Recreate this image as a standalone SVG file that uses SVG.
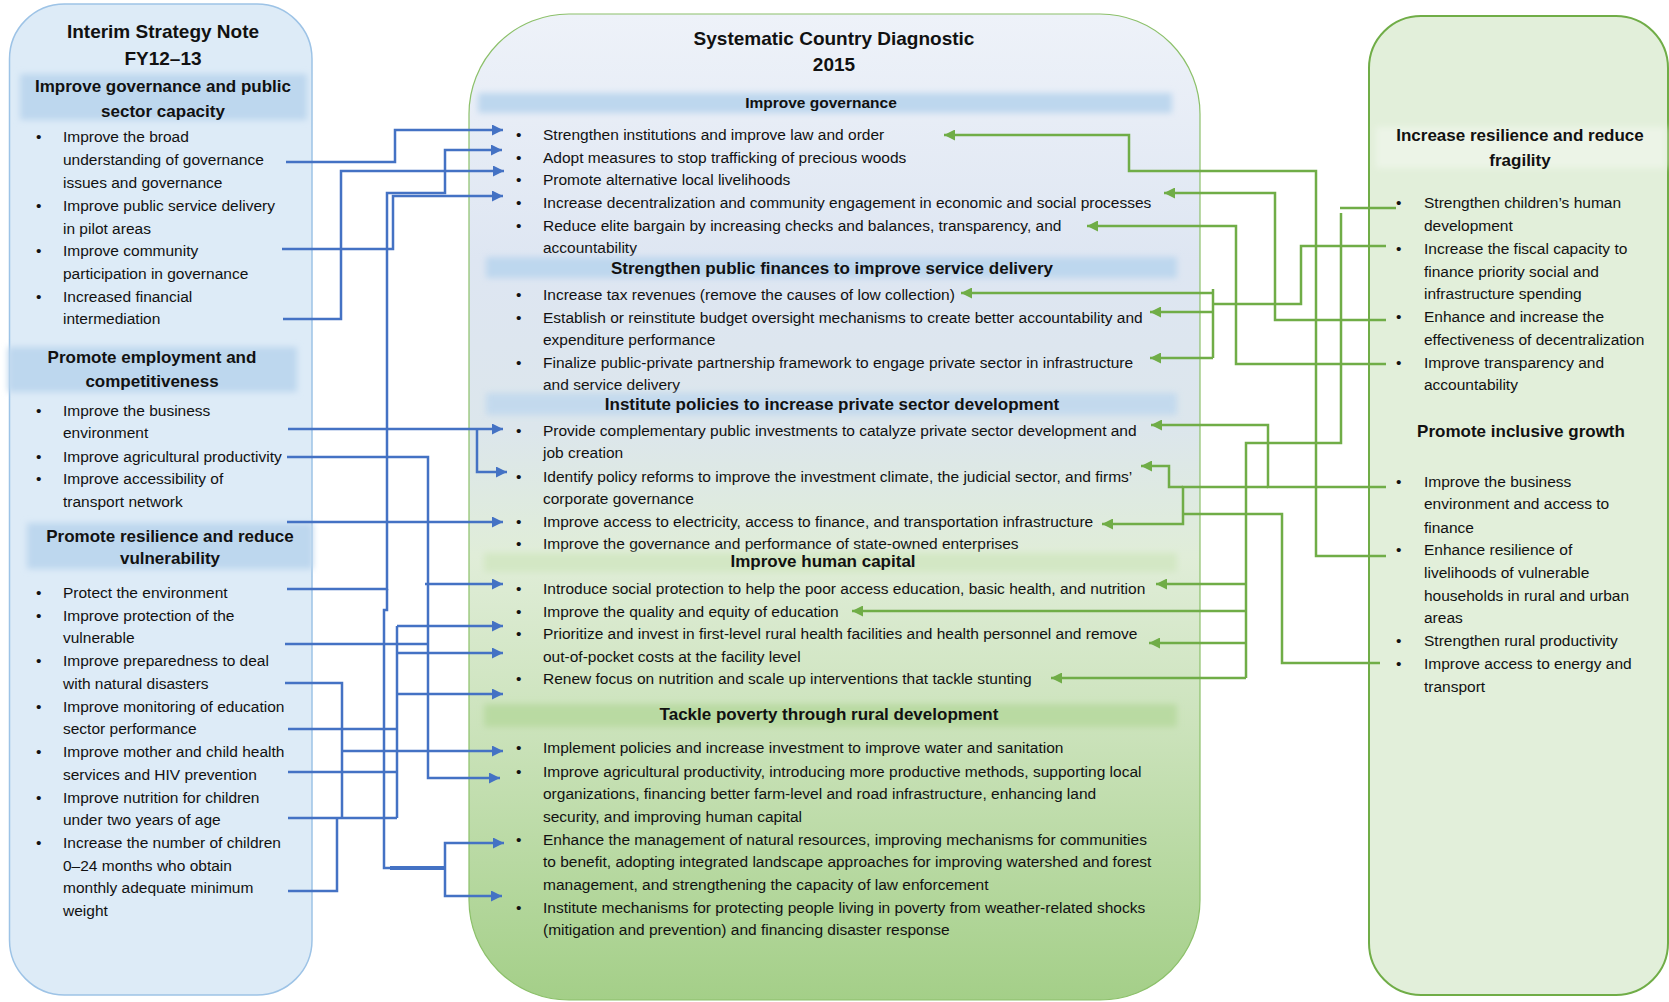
<svg xmlns="http://www.w3.org/2000/svg" width="1669" height="1002" viewBox="0 0 1669 1002">
<defs>
<style>
text{font-family:"Liberation Sans",Arial,sans-serif;fill:#111}
.t{font-size:15.5px}
.h{font-size:17px;font-weight:bold;text-anchor:middle}
.hm{font-size:15.5px;font-weight:bold;text-anchor:middle}
.ttl{font-size:19px;font-weight:bold;text-anchor:middle}
.blue{fill:none;stroke:#4472C4;stroke-width:2.5}
.green{fill:none;stroke:#70AD47;stroke-width:2.5}
.bandB{fill:#BDD7EE}
.bandG{fill:#B9DAA2}
</style>
<filter id="soft" x="-5%" y="-50%" width="110%" height="200%"><feGaussianBlur stdDeviation="3"/></filter>
<linearGradient id="midg" x1="0" y1="14" x2="0" y2="1000" gradientUnits="userSpaceOnUse">
<stop offset="0" stop-color="#EEF2F9"/>
<stop offset="0.25" stop-color="#DEE6F2"/>
<stop offset="0.42" stop-color="#DCE6EC"/>
<stop offset="0.55" stop-color="#E0EDD8"/>
<stop offset="0.72" stop-color="#CCE3BC"/>
<stop offset="1" stop-color="#A4CF88"/>
</linearGradient>
<marker id="ab" markerUnits="userSpaceOnUse" markerWidth="11" markerHeight="11" refX="11" refY="5.5" orient="auto"><path d="M0,0 L11,5.5 L0,11 z" fill="#4472C4"/></marker>
<marker id="ag" markerUnits="userSpaceOnUse" markerWidth="11" markerHeight="11" refX="11" refY="5.5" orient="auto"><path d="M0,0 L11,5.5 L0,11 z" fill="#70AD47"/></marker>
</defs>
<rect width="1669" height="1002" fill="#fff"/>

<g id="node-isn">
<rect x="9.5" y="4" width="302.5" height="991" rx="55" fill="#DDEBF7" stroke="#9DC3E6" stroke-width="1.5"/>
<text class="ttl" x="163" y="38">Interim Strategy Note</text>
<text class="ttl" x="163" y="65">FY12–13</text>
<rect class="bandB" x="20" y="74" width="287" height="46" filter="url(#soft)"/>
<text class="h" x="163" y="92">Improve governance and public</text>
<text class="h" x="163" y="117">sector capacity</text>
<g class="t">
<text x="36" y="142">•</text><text x="63" y="142">Improve the broad</text>
<text x="63" y="165">understanding of governance</text>
<text x="63" y="188">issues and governance</text>
<text x="36" y="211">•</text><text x="63" y="211">Improve public service delivery</text>
<text x="63" y="234">in pilot areas</text>
<text x="36" y="256">•</text><text x="63" y="256">Improve community</text>
<text x="63" y="279">participation in governance</text>
<text x="36" y="302">•</text><text x="63" y="302">Increased financial</text>
<text x="63" y="324">intermediation</text>
</g>
<rect class="bandB" x="8" y="347" width="289" height="45" filter="url(#soft)"/>
<text class="h" x="152" y="363">Promote employment and</text>
<text class="h" x="152" y="387">competitiveness</text>
<g class="t">
<text x="36" y="416">•</text><text x="63" y="416">Improve the business</text>
<text x="63" y="438">environment</text>
<text x="36" y="462">•</text><text x="63" y="462">Improve agricultural productivity</text>
<text x="36" y="484">•</text><text x="63" y="484">Improve accessibility of</text>
<text x="63" y="507">transport network</text>
</g>
<rect class="bandB" x="27" y="523" width="286" height="46" filter="url(#soft)"/>
<text class="h" x="170" y="542">Promote resilience and reduce</text>
<text class="h" x="170" y="564">vulnerability</text>
<g class="t">
<text x="36" y="598">•</text><text x="63" y="598">Protect the environment</text>
<text x="36" y="621">•</text><text x="63" y="621">Improve protection of the</text>
<text x="63" y="643">vulnerable</text>
<text x="36" y="666">•</text><text x="63" y="666">Improve preparedness to deal</text>
<text x="63" y="689">with natural disasters</text>
<text x="36" y="712">•</text><text x="63" y="712">Improve monitoring of education</text>
<text x="63" y="734">sector performance</text>
<text x="36" y="757">•</text><text x="63" y="757">Improve mother and child health</text>
<text x="63" y="780">services and HIV prevention</text>
<text x="36" y="803">•</text><text x="63" y="803">Improve nutrition for children</text>
<text x="63" y="825">under two years of age</text>
<text x="36" y="848">•</text><text x="63" y="848">Increase the number of children</text>
<text x="63" y="871">0–24 months who obtain</text>
<text x="63" y="893">monthly adequate minimum</text>
<text x="63" y="916">weight</text>
</g>
</g>

<g id="node-scd">
<rect x="469" y="14" width="731" height="986" rx="100" fill="url(#midg)" stroke="#8CC06A" stroke-width="1.2"/>
<text class="ttl" x="834" y="45">Systematic Country Diagnostic</text>
<text class="ttl" x="834" y="71">2015</text>
<rect class="bandB" x="478" y="93" width="694" height="20" filter="url(#soft)"/>
<text class="hm" x="821" y="108">Improve governance</text>
<g class="t">
<text x="516" y="140">•</text><text x="543" y="140">Strengthen institutions and improve law and order</text>
<text x="516" y="163">•</text><text x="543" y="163">Adopt measures to stop trafficking of precious woods</text>
<text x="516" y="185">•</text><text x="543" y="185">Promote alternative local livelihoods</text>
<text x="516" y="208">•</text><text x="543" y="208">Increase decentralization and community engagement in economic and social processes</text>
<text x="516" y="231">•</text><text x="543" y="231">Reduce elite bargain by increasing checks and balances, transparency, and</text>
<text x="543" y="253">accountability</text>
</g>
<rect class="bandB" x="486" y="257" width="691" height="21" filter="url(#soft)"/>
<text class="h" x="832" y="274">Strengthen public finances to improve service delivery</text>
<g class="t">
<text x="516" y="300">•</text><text x="543" y="300">Increase tax revenues (remove the causes of low collection)</text>
<text x="516" y="323">•</text><text x="543" y="323">Establish or reinstitute budget oversight mechanisms to create better accountability and</text>
<text x="543" y="345">expenditure performance</text>
<text x="516" y="368">•</text><text x="543" y="368">Finalize public-private partnership framework to engage private sector in infrastructure</text>
<text x="543" y="390">and service delivery</text>
</g>
<rect class="bandB" x="486" y="393" width="691" height="22" filter="url(#soft)" opacity="0.8"/>
<text class="h" x="832" y="410">Institute policies to increase private sector development</text>
<g class="t">
<text x="516" y="436">•</text><text x="543" y="436">Provide complementary public investments to catalyze private sector development and</text>
<text x="543" y="458">job creation</text>
<text x="516" y="482">•</text><text x="543" y="482">Identify policy reforms to improve the investment climate, the judicial sector, and firms’</text>
<text x="543" y="504">corporate governance</text>
<text x="516" y="527">•</text><text x="543" y="527">Improve access to electricity, access to finance, and transportation infrastructure</text>
<text x="516" y="549">•</text><text x="543" y="549">Improve the governance and performance of state-owned enterprises</text>
</g>
<rect x="484" y="553" width="693" height="19" fill="#D3E7C4" filter="url(#soft)"/>
<text class="h" x="823" y="567">Improve human capital</text>
<g class="t">
<text x="516" y="594">•</text><text x="543" y="594">Introduce social protection to help the poor access education, basic health, and nutrition</text>
<text x="516" y="617">•</text><text x="543" y="617">Improve the quality and equity of education</text>
<text x="516" y="639">•</text><text x="543" y="639">Prioritize and invest in first-level rural health facilities and health personnel and remove</text>
<text x="543" y="662">out-of-pocket costs at the facility level</text>
<text x="516" y="684">•</text><text x="543" y="684">Renew focus on nutrition and scale up interventions that tackle stunting</text>
</g>
<rect class="bandG" x="484" y="704" width="693" height="23" filter="url(#soft)"/>
<text class="h" x="829" y="720">Tackle poverty through rural development</text>
<g class="t">
<text x="516" y="753">•</text><text x="543" y="753">Implement policies and increase investment to improve water and sanitation</text>
<text x="516" y="777">•</text><text x="543" y="777">Improve agricultural productivity, introducing more productive methods, supporting local</text>
<text x="543" y="799">organizations, financing better farm-level and road infrastructure, enhancing land</text>
<text x="543" y="822">security, and improving human capital</text>
<text x="516" y="845">•</text><text x="543" y="845">Enhance the management of natural resources, improving mechanisms for communities</text>
<text x="543" y="867">to benefit, adopting integrated landscape approaches for improving watershed and forest</text>
<text x="543" y="890">management, and strengthening the capacity of law enforcement</text>
<text x="516" y="913">•</text><text x="543" y="913">Institute mechanisms for protecting people living in poverty from weather-related shocks</text>
<text x="543" y="935">(mitigation and prevention) and financing disaster response</text>
</g>
</g>

<g id="node-right">
<rect x="1369" y="16" width="299" height="979" rx="52" fill="#E2EFDA" stroke="#70AD47" stroke-width="2"/>
<rect x="1376" y="127" width="290" height="41" fill="#ECF4E7" filter="url(#soft)"/>
<text class="h" x="1520" y="141">Increase resilience and reduce</text>
<text class="h" x="1520" y="166">fragility</text>
<g class="t">
<text x="1396" y="208">•</text><text x="1424" y="208">Strengthen children’s human</text>
<text x="1424" y="231">development</text>
<text x="1396" y="254">•</text><text x="1424" y="254">Increase the fiscal capacity to</text>
<text x="1424" y="277">finance priority social and</text>
<text x="1424" y="299">infrastructure spending</text>
<text x="1396" y="322">•</text><text x="1424" y="322">Enhance and increase the</text>
<text x="1424" y="345">effectiveness of decentralization</text>
<text x="1396" y="368">•</text><text x="1424" y="368">Improve transparency and</text>
<text x="1424" y="390">accountability</text>
</g>
<text class="h" x="1521" y="437">Promote inclusive growth</text>
<g class="t">
<text x="1396" y="487">•</text><text x="1424" y="487">Improve the business</text>
<text x="1424" y="509">environment and access to</text>
<text x="1424" y="533">finance</text>
<text x="1396" y="555">•</text><text x="1424" y="555">Enhance resilience of</text>
<text x="1424" y="578">livelihoods of vulnerable</text>
<text x="1424" y="601">households in rural and urban</text>
<text x="1424" y="623">areas</text>
<text x="1396" y="646">•</text><text x="1424" y="646">Strengthen rural productivity</text>
<text x="1396" y="669">•</text><text x="1424" y="669">Improve access to energy and</text>
<text x="1424" y="692">transport</text>
</g>
</g>

<g id="connectors">
<g class="blue">
<path d="M286,162 H395 V130 H503" marker-end="url(#ab)"/>
<path d="M283,319 H341 V171 H504" marker-end="url(#ab)"/>
<path d="M282,249 H393 V196 H503" marker-end="url(#ab)"/>
<path d="M287,589 H387 V193 H445 V150 H502" marker-end="url(#ab)"/>
<path d="M387,589 V610 H384 V868 H445"/>
<path d="M390,868 H445" stroke-width="4"/>
<path d="M445,868 V843 H504" marker-end="url(#ab)"/>
<path d="M445,868 V896 H502" marker-end="url(#ab)"/>
<path d="M288,429 H503" marker-end="url(#ab)"/>
<path d="M477,429 V472 H507" marker-end="url(#ab)"/>
<path d="M287,457 H428 V778 H500" marker-end="url(#ab)"/>
<path d="M425,584 H503" marker-end="url(#ab)"/>
<path d="M287,522 H503" marker-end="url(#ab)"/>
<path d="M285,644 H427"/>
<path d="M397,626 V818"/>
<path d="M397,626 H503" marker-end="url(#ab)"/>
<path d="M397,653 H503" marker-end="url(#ab)"/>
<path d="M397,694 H503" marker-end="url(#ab)"/>
<path d="M288,729 H397"/>
<path d="M288,772 H397"/>
<path d="M288,818 H397"/>
<path d="M285,683 H342 V818"/>
<path d="M342,751 H503" marker-end="url(#ab)"/>
<path d="M288,891 H337 V818"/>
</g>
<g class="green">
<path d="M1386,556 H1316 V171 H1129 V135 H944" marker-end="url(#ag)"/>
<path d="M1386,320 H1275 V193 H1164" marker-end="url(#ag)"/>
<path d="M1386,364 H1236 V226 H1087" marker-end="url(#ag)"/>
<path d="M1396,208 H1340"/>
<path d="M1341,213 V443 H1246 V678"/>
<path d="M1246,584 H1156" marker-end="url(#ag)"/>
<path d="M1246,611 H852" marker-end="url(#ag)"/>
<path d="M1246,643 H1149" marker-end="url(#ag)"/>
<path d="M1246,678 H1051" marker-end="url(#ag)"/>
<path d="M1386,246 H1301 V304 H1213"/>
<path d="M1213,289 V358"/>
<path d="M1213,293 H961" marker-end="url(#ag)"/>
<path d="M1213,312 H1150" marker-end="url(#ag)"/>
<path d="M1213,358 H1150" marker-end="url(#ag)"/>
<path d="M1386,487 H1268 V425 H1151" marker-end="url(#ag)"/>
<path d="M1268,487 H1183 V524 H1102" marker-end="url(#ag)"/>
<path d="M1183,487 H1169 V466 H1141" marker-end="url(#ag)"/>
<path d="M1183,514 H1282 V663 H1380"/>
</g>
</g>
</svg>
